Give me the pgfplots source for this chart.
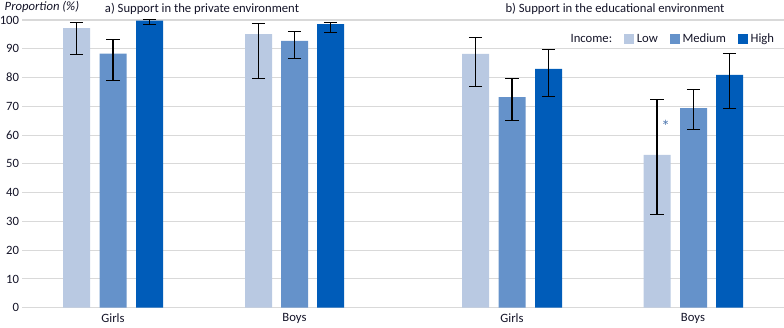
\documentclass[border=0pt]{standalone}
\usepackage{pgfplots}
\pgfplotsset{compat=1.18}
\usepackage{pgfplotstable}
\usepackage{fontspec}
\setmainfont{Carlito}
\definecolor{lowc}{RGB}{185,201,226}
\definecolor{medc}{RGB}{101,146,202}
\definecolor{highc}{RGB}{0,92,185}
\definecolor{txt}{RGB}{20,20,40}
\definecolor{gridc}{RGB}{217,217,217}
\definecolor{astc}{RGB}{80,120,175}
\pgfplotstableread{
x y ep em
76.5 97.2 2.0 9.1
258.5 95.1 3.7 15.4
475.5 88.2 5.7 11.2
657 53.1 19.3 20.6
}\lowdata
\pgfplotstableread{
x y ep em
113 88.3 5.0 9.3
294.5 92.7 3.4 6.0
512 73.2 6.4 8.1
693.5 69.4 6.5 7.4
}\meddata
\pgfplotstableread{
x y ep em
149.5 99.8 0.3 1.3
330.5 98.6 0.6 2.9
548.5 83.0 6.8 9.5
729.5 80.9 7.5 11.6
}\highdata
\pgfplotsset{
  myerr/.style={
    error bars/.cd, y dir=both, y explicit,
    error bar style={black, line width=0.8pt},
    error mark options={black, rotate=90, mark size=5pt, line width=0.8pt}}
}
\begin{document}
\begin{tikzpicture}[font=\fontsize{9.5pt}{11pt}\selectfont, text=txt]
\begin{axis}[
  scale only axis,
  width=571.5pt, height=215.8pt,
  xmin=22, xmax=784, ymin=0, ymax=100,
  ytick={0,10,...,100},
  xtick={113,294.5,512,693},
  xticklabels={Girls,Boys,Girls,Boys},
  ymajorgrids,
  major grid style={draw=gridc, line width=0.8pt},
  axis line style={draw=none},
  major tick length=0pt,
  tick label style={font=\fontsize{9.5pt}{11pt}\selectfont, text=txt},
  /pgf/number format/assume math mode=true,
  yticklabel style={anchor=east, xshift=0pt, inner sep=2pt},
  xticklabel style={yshift=-1pt},
  clip=false,
  ybar,
  bar width=27,
  legend style={at={(axis cs:781,93.4)}, anchor=east, legend columns=-1, draw=none, fill=none,
    font=\fontsize{9.5pt}{11pt}\selectfont, text=txt,
    /tikz/every even column/.append style={column sep=7pt}},
  legend cell align=left,
]
\addlegendimage{empty legend}
\addlegendentry{Income:}
\addplot[bar shift=0pt, fill=lowc, draw=none,
  legend image code/.code={\fill[lowc] (0pt,-3.75pt) rectangle (7.5pt,3.75pt);},
  myerr]
  table[x=x, y=y, y error plus=ep, y error minus=em]{\lowdata};
\addlegendentry{Low}
\addplot[bar shift=0pt, fill=medc, draw=none,
  legend image code/.code={\fill[medc] (0pt,-3.75pt) rectangle (7.5pt,3.75pt);},
  myerr]
  table[x=x, y=y, y error plus=ep, y error minus=em]{\meddata};
\addlegendentry{Medium}
\addplot[bar shift=0pt, fill=highc, draw=none,
  legend image code/.code={\fill[highc] (0pt,-3.75pt) rectangle (7.5pt,3.75pt);},
  myerr]
  table[x=x, y=y, y error plus=ep, y error minus=em]{\highdata};
\addlegendentry{High}
\node[font=\fontsize{9.5pt}{11pt}\selectfont\itshape, anchor=west] at (axis cs:0,104.6) {Proportion (\%)};
\node at (axis cs:202,104) {a) Support in the private environment};
\node at (axis cs:615,104) {b) Support in the educational environment};
\node[text=astc, font=\fontsize{13pt}{14pt}\selectfont] at (axis cs:665.7,63.2) {*};
\end{axis}
\pgfresetboundingbox
\path[use as bounding box] ([shift={(-16.5pt,-14.5pt)}]current axis.south west) rectangle ([shift={(0pt,15pt)}]current axis.north east);
\end{tikzpicture}
\end{document}
